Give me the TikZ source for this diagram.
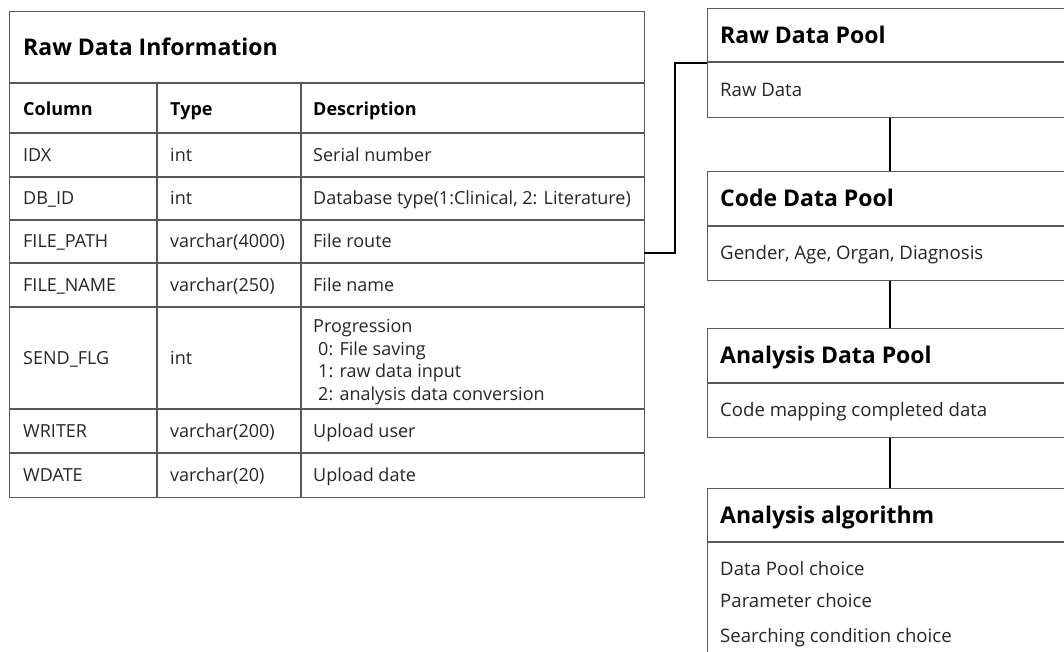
\documentclass[tikz,border=0pt]{standalone}
\usepackage{fontspec}
\setmainfont{Open Sans}
\begin{document}
\begin{tikzpicture}[x=1pt,y=-1pt,
  grid/.style={draw=black!65, line width=1.3pt},
  conn/.style={draw=black, line width=2pt},
  cell/.style={anchor=west, inner sep=0pt, text=black!85, font=\fontsize{18}{22.5}\selectfont, text height=12.85pt, text depth=0pt},
  multi/.style={anchor=west, inner sep=0pt, text=black!85, font=\fontsize{18}{22.5}\selectfont, align=left},
  body/.style={anchor=west, inner sep=0pt, text=black!85, font=\fontsize{18.6}{22}\selectfont, text height=13.3pt, text depth=0pt},
  head/.style={anchor=west, inner sep=0pt, text=black, font=\bfseries\fontsize{18}{22}\selectfont, text height=12.85pt, text depth=0pt},
  ttl/.style={anchor=west, inner sep=0pt, text=black, font=\bfseries\fontsize{23}{27}\selectfont, text height=16.4pt, text depth=0pt},
  pool/.style={draw=black!65, line width=1.3pt, anchor=north west, minimum width=400pt, inner sep=0pt},
]
\clip (0,0) rectangle (1064,651);
\fill[white] (0,0) rectangle (1064,651);

% ---------- table ----------
\node[grid, anchor=north west, minimum width=635pt, minimum height=486pt, inner sep=0pt] (tbl) at (9,11) {};
\foreach \yy in {83,133,177,220,263,307,409,453} \draw[grid] (9,\yy) -- (644,\yy);
\foreach \xx in {157,301} \draw[grid] (\xx,83) -- (\xx,497);

\node[ttl] (t0) at (23,47.5) {Raw Data Information};
\node[head] (h1) at (23,109) {Column};
\node[head] (h2) at (170,109) {Type};
\node[head] (h3) at (313,109) {Description};

\node[cell] (a1) at (23,155) {IDX};
\node[cell] (b1) at (170,155) {int};
\node[cell] (c1) at (313,155) {Serial number};

\node[cell] (a2) at (23,198.5) {DB\_ID};
\node[cell] (b2) at (170,198.5) {int};
\node[cell] (c2) at (313,198.5) {Database type(1:Clinical, 2: Literature)};

\node[cell] (a3) at (23,241.5) {FILE\_PATH};
\node[cell] (b3) at (170,241.5) {varchar(4000)};
\node[cell] (c3) at (313,241.5) {File route};

\node[cell] (a4) at (23,285) {FILE\_NAME};
\node[cell] (b4) at (170,285) {varchar(250)};
\node[cell] (c4) at (313,285) {File name};

\node[cell] (a5) at (23,358) {SEND\_FLG};
\node[cell] (b5) at (170,358) {int};
\node[multi] (c5) at (313,362) {Progression\\\hspace*{5pt}0: File saving\\\hspace*{5pt}1: raw data input\\\hspace*{5pt}2: analysis data conversion};

\node[cell] (a6) at (23,431) {WRITER};
\node[cell] (b6) at (170,431) {varchar(200)};
\node[cell] (c6) at (313,431) {Upload user};

\node[cell] (a7) at (23,475) {WDATE};
\node[cell] (b7) at (170,475) {varchar(20)};
\node[cell] (c7) at (313,475) {Upload date};

% ---------- pools ----------
\node[pool, minimum height=109pt] (rdp) at (707,8) {};
\draw[grid] (707,62) -- (1080,62);
\node[ttl] (rdpt) at (720,35.5) {Raw Data Pool};
\node[body] (rdpb) at (720,90) {Raw Data};

\node[pool, minimum height=109pt] (cdp) at (707,171) {};
\draw[grid] (707,226) -- (1080,226);
\node[ttl] (cdpt) at (720,198.5) {Code Data Pool};
\node[body] (cdpb) at (720,253) {Gender, Age, Organ, Diagnosis};

\node[pool, minimum height=109pt] (adp) at (707,328) {};
\draw[grid] (707,383) -- (1080,383);
\node[ttl] (adpt) at (720,355.5) {Analysis Data Pool};
\node[body] (adpb) at (720,410) {Code mapping completed data};

\node[pool, minimum height=200pt] (alg) at (707,488) {};
\draw[grid] (707,542) -- (1080,542);
\node[ttl] (algt) at (720,515) {Analysis algorithm};
\node[body] (alg1) at (720,568.5) {Data Pool choice};
\node[body] (alg2) at (720,600.5) {Parameter choice};
\node[body] (alg3) at (720,635.5) {Searching condition choice};

% ---------- connectors ----------
\coordinate (fp) at (644,253);
\coordinate (trunk) at (890,0);
\draw[conn] (fp) -- ++(31,0) |- (rdp.west);
\draw[conn] (rdp.south -| trunk) -- (cdp.north -| trunk);
\draw[conn] (cdp.south -| trunk) -- (adp.north -| trunk);
\draw[conn] (adp.south -| trunk) -- (alg.north -| trunk);
\end{tikzpicture}
\end{document}
